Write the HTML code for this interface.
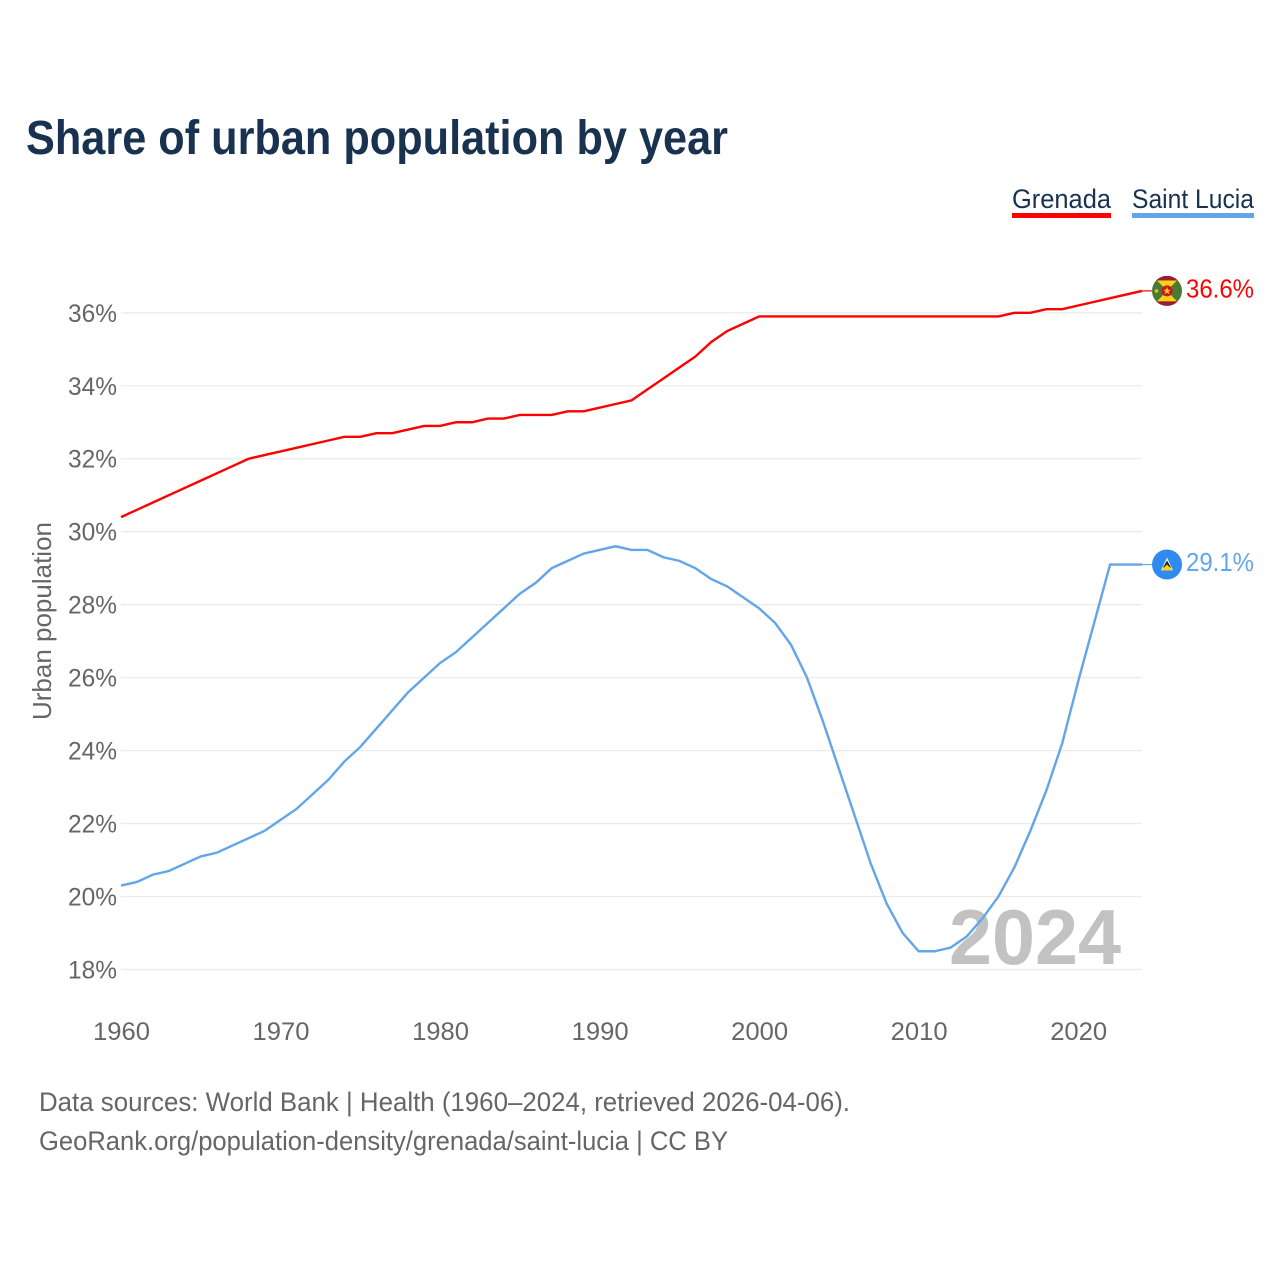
<!DOCTYPE html>
<html lang="en">
<head>
<meta charset="utf-8">
<title>Share of urban population by year</title>
<style>
html,body{margin:0;padding:0;background:#fff;width:1280px;height:1280px;overflow:hidden}
svg{display:block;font-family:"Liberation Sans",sans-serif}
</style>
</head>
<body>
<svg id="chart" xmlns="http://www.w3.org/2000/svg" width="1280" height="1280" viewBox="0 0 1280 1280">
  <rect width="1280" height="1280" fill="#fff"/>
  <text x="26" y="154" font-size="48" font-weight="700" fill="#18324f" textLength="702" lengthAdjust="spacingAndGlyphs">Share of urban population by year</text>

  <g>
    <g>
      <text x="1012" y="208" font-size="27" fill="#18324f" textLength="99" lengthAdjust="spacingAndGlyphs">Grenada</text>
      <rect x="1012" y="213" width="99" height="5" fill="#ff0000"/>
    </g>
    <g>
      <text x="1132" y="208" font-size="27" fill="#18324f" textLength="122" lengthAdjust="spacingAndGlyphs">Saint Lucia</text>
      <rect x="1132" y="213" width="122" height="5" fill="#62a5ea"/>
    </g>
  </g>

  <g id="grid"></g>
  <g id="yticks"></g>
  <g id="xticks"></g>

  <text transform="translate(51,621) rotate(-90)" text-anchor="middle" font-size="26" fill="#666" textLength="198" lengthAdjust="spacingAndGlyphs">Urban population</text>

  <text x="949" y="964" font-size="78" font-weight="700" fill="#c2c2c2" textLength="172" lengthAdjust="spacingAndGlyphs">2024</text>

  <g id="series"></g>

  <defs>
    <clipPath id="flag-clip"><circle cx="0" cy="0" r="15"/></clipPath>
  </defs>

  <g id="end-grenada">
    <line id="leader-grenada" x1="1142" x2="1154" stroke="#ff0000" stroke-width="1.2"/>
    <g id="flag-grenada" clip-path="url(#flag-clip)">
      <rect x="-15" y="-15" width="30" height="30" fill="#4d7a33"/>
      <polygon points="-10,-10.5 10,-10.5 0,0" fill="#fcd116"/>
      <polygon points="-10,10.5 10,10.5 0,0" fill="#fcd116"/>
      <rect x="-15" y="-15" width="30" height="4.5" fill="#9c1c33"/>
      <rect x="-15" y="10.5" width="30" height="4.5" fill="#9c1c33"/>
      <circle cx="0" cy="0" r="5.5" fill="#ce1126"/>
      <polygon points="0,-4 1,-1.2 3.8,-1.2 1.5,0.6 2.4,3.4 0,1.7 -2.4,3.4 -1.5,0.6 -3.8,-1.2 -1,-1.2" fill="#fcd116"/>
      <circle cx="-10.5" cy="0" r="1.8" fill="#d9c23a"/>
    </g>
    <text id="value-grenada" x="1186" font-size="26" fill="#ff0000" textLength="68" lengthAdjust="spacingAndGlyphs">36.6%</text>
  </g>

  <g id="end-lucia">
    <line id="leader-lucia" x1="1142" x2="1154" stroke="#62a5ea" stroke-width="1.2"/>
    <g id="flag-lucia" clip-path="url(#flag-clip)">
      <rect x="-15" y="-15" width="30" height="30" fill="#2f8bf0"/>
      <polygon points="0,-7 6,6 -6,6" fill="#f5f5f5"/>
      <polygon points="0,-4 4,3 -4,3" fill="#222"/>
      <polygon points="0,0 6,6 -6,6" fill="#fcd116"/>
    </g>
    <text id="value-lucia" x="1186" font-size="26" fill="#62a5ea" textLength="68" lengthAdjust="spacingAndGlyphs">29.1%</text>
  </g>

  <text x="39" y="1111" font-size="27" fill="#666" textLength="811" lengthAdjust="spacingAndGlyphs">Data sources: World Bank | Health (1960–2024, retrieved 2026-04-06).</text>
  <text x="39" y="1150" font-size="27" fill="#666" textLength="689" lengthAdjust="spacingAndGlyphs">GeoRank.org/population-density/grenada/saint-lucia | CC BY</text>
</svg>

<script>
const years = [1960,1961,1962,1963,1964,1965,1966,1967,1968,1969,1970,1971,1972,1973,1974,1975,1976,1977,1978,1979,1980,1981,1982,1983,1984,1985,1986,1987,1988,1989,1990,1991,1992,1993,1994,1995,1996,1997,1998,1999,2000,2001,2002,2003,2004,2005,2006,2007,2008,2009,2010,2011,2012,2013,2014,2015,2016,2017,2018,2019,2020,2021,2022,2023,2024];
const grenadaValues = [30.4,30.6,30.8,31.0,31.2,31.4,31.6,31.8,32.0,32.1,32.2,32.3,32.4,32.5,32.6,32.6,32.7,32.7,32.8,32.9,32.9,33.0,33.0,33.1,33.1,33.2,33.2,33.2,33.3,33.3,33.4,33.5,33.6,33.9,34.2,34.5,34.8,35.2,35.5,35.7,35.9,35.9,35.9,35.9,35.9,35.9,35.9,35.9,35.9,35.9,35.9,35.9,35.9,35.9,35.9,35.9,36.0,36.0,36.1,36.1,36.2,36.3,36.4,36.5,36.6];
const saintLuciaValues = [20.3,20.4,20.6,20.7,20.9,21.1,21.2,21.4,21.6,21.8,22.1,22.4,22.8,23.2,23.7,24.1,24.6,25.1,25.6,26.0,26.4,26.7,27.1,27.5,27.9,28.3,28.6,29.0,29.2,29.4,29.5,29.6,29.5,29.5,29.3,29.2,29.0,28.7,28.5,28.2,27.9,27.5,26.9,26.0,24.8,23.5,22.2,20.9,19.8,19.0,18.5,18.5,18.6,18.9,19.4,20.0,20.8,21.8,22.9,24.2,25.9,27.5,29.1,29.1,29.1];
const yTickValues = [18,20,22,24,26,28,30,32,34,36];
const xTickValues = [1960,1970,1980,1990,2000,2010,2020];

const NS = 'http://www.w3.org/2000/svg';
const plotLeft = 121, plotRight = 1142;
function xScale(year) { return plotLeft + (year - 1960) * (plotRight - plotLeft) / (2024 - 1960); }
function yScale(v) { return 969.5 - (v - 18) * (969.5 - 312.8) / (36 - 18); }
function make(tag, parent) {
  const el = document.createElementNS(NS, tag);
  document.getElementById(parent).appendChild(el);
  return el;
}

yTickValues.forEach(function (v) {
  const line = make('line', 'grid');
  
  
  line.setAttribute('x1', plotLeft);
  line.setAttribute('x2', plotRight);
  line.setAttribute('y1', yScale(v));
  line.setAttribute('y2', yScale(v));
  line.setAttribute('stroke', '#ebebeb');
  line.setAttribute('stroke-width', '1.3');

  const label = make('text', 'yticks');
  
  
  label.setAttribute('x', 117);
  label.setAttribute('y', yScale(v) + 9);
  label.setAttribute('text-anchor', 'end');
  label.setAttribute('font-size', '25');
  label.setAttribute('fill', '#666');
  label.setAttribute('textLength', '49');
  label.setAttribute('lengthAdjust', 'spacingAndGlyphs');
  label.textContent = v + '%';
});

xTickValues.forEach(function (yr) {
  const label = make('text', 'xticks');
  
  
  label.setAttribute('x', xScale(yr) + 0.5);
  label.setAttribute('y', 1040);
  label.setAttribute('text-anchor', 'middle');
  label.setAttribute('font-size', '25');
  label.setAttribute('fill', '#666');
  label.setAttribute('textLength', '57');
  label.setAttribute('lengthAdjust', 'spacingAndGlyphs');
  label.textContent = yr;
});

function pathFor(values) {
  return values.map(function (v, i) {
    return (i ? 'L' : 'M') + xScale(years[i]).toFixed(2) + ' ' + yScale(v).toFixed(2);
  }).join(' ');
}

const grenadaLine = make('path', 'series');


grenadaLine.setAttribute('d', pathFor(grenadaValues));
grenadaLine.setAttribute('fill', 'none');
grenadaLine.setAttribute('stroke', '#ff0000');
grenadaLine.setAttribute('stroke-width', '2.4');

const luciaLine = make('path', 'series');


luciaLine.setAttribute('d', pathFor(saintLuciaValues));
luciaLine.setAttribute('fill', 'none');
luciaLine.setAttribute('stroke', '#62a5ea');
luciaLine.setAttribute('stroke-width', '2.4');

function placeEnd(key, values) {
  const last = values[values.length - 1];
  const y = yScale(last);
  const leader = document.getElementById('leader-' + key);
  leader.setAttribute('y1', y);
  leader.setAttribute('y2', y);
  document.getElementById('flag-' + key).setAttribute('transform', 'translate(1167,' + y + ')');
  const val = document.getElementById('value-' + key);
  val.setAttribute('y', y + 6.5);
  val.textContent = last.toFixed(1) + '%';
}
placeEnd('grenada', grenadaValues);
placeEnd('lucia', saintLuciaValues);
</script>
</body>
</html>
